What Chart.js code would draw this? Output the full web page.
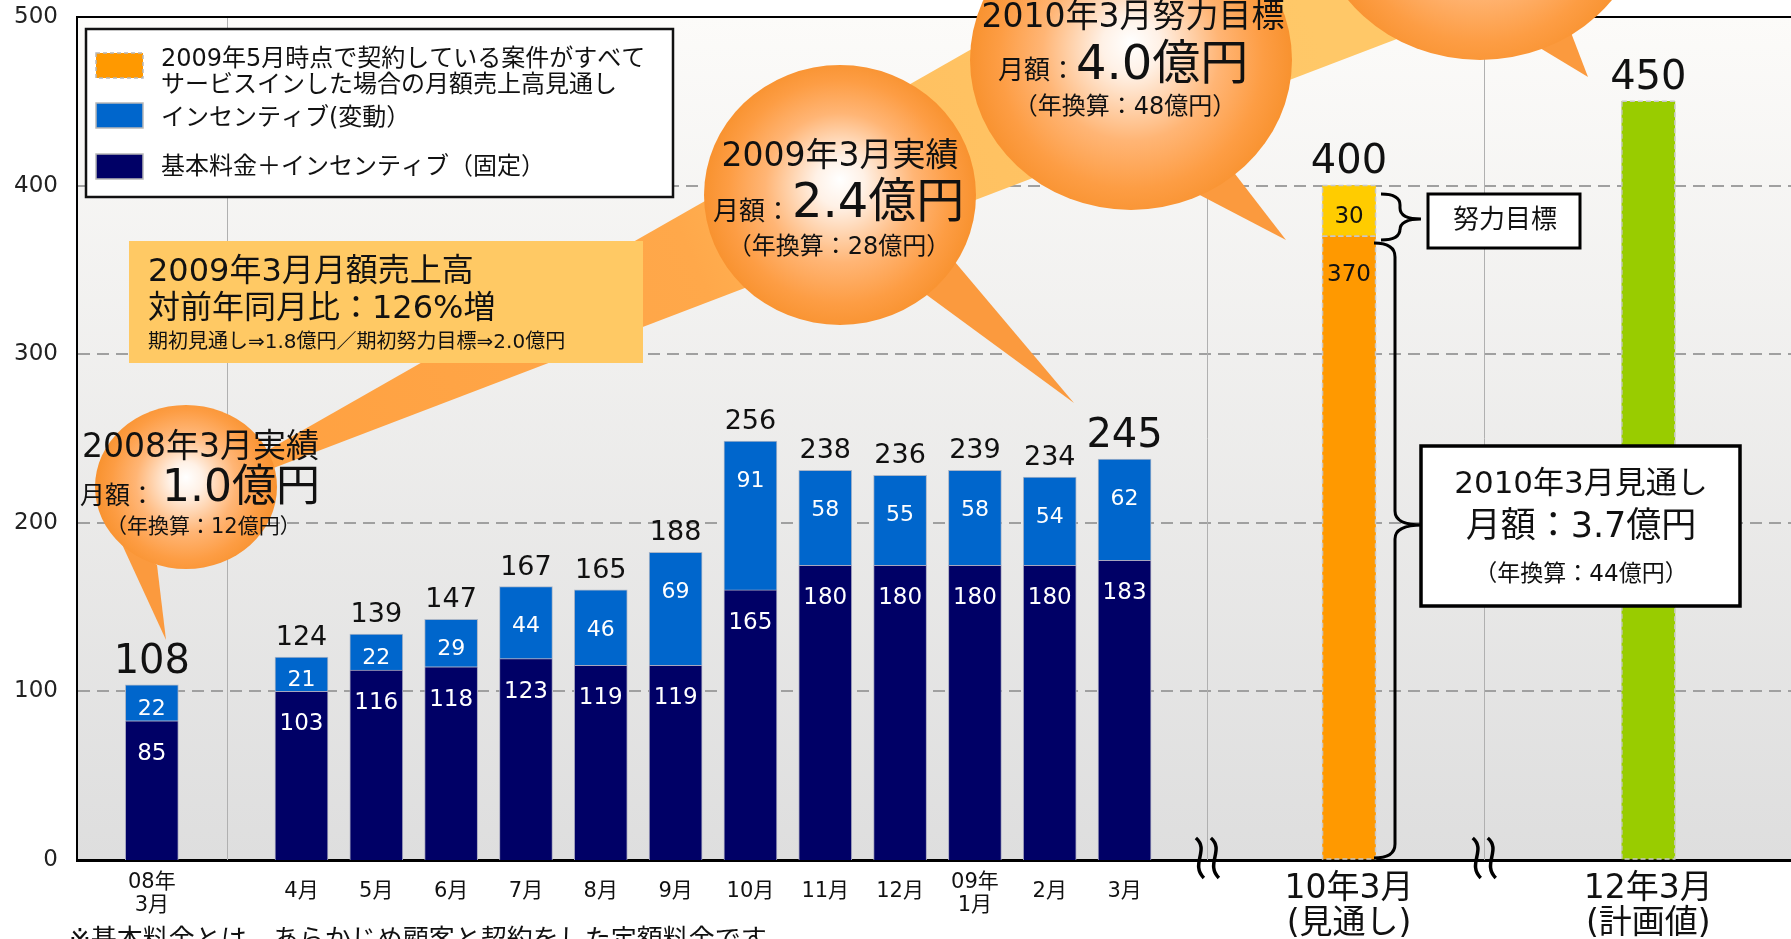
<!DOCTYPE html>
<html lang="ja">
<head>
<meta charset="utf-8">
<title>月額売上高の推移</title>
<script src="https://cdn.jsdelivr.net/npm/chart.js@4"></script>
<style>
  html, body { margin: 0; padding: 0; background: #fff; overflow: hidden; }
  canvas { display: block; }
</style>
</head>
<body>
<canvas id="chart" width="1798" height="939"></canvas>
<script>
// 実績（08年3月、08年4月〜09年3月）
const actualMonths = [['08年', '3月'], '4月', '5月', '6月', '7月', '8月', '9月', '10月', '11月', '12月', ['09年', '1月'], '2月', '3月'];
const fixedFee = [85, 103, 116, 118, 123, 119, 119, 165, 180, 180, 180, 180, 183];
const incentive = [22, 21, 22, 29, 44, 46, 69, 91, 58, 55, 58, 54, 62];
const actualTotals = [108, 124, 139, 147, 167, 165, 188, 256, 238, 236, 239, 234, 245];

// 10年3月 見通し / 12年3月 計画値
const outlookLabel = ['10年3月', '(見通し)'];
const outlookBase = [370];
const outlookEffort = [30];
const outlookTotal = [400];
const planLabel = ['12年3月', '(計画値)'];
const planValue = [450];

const yTicks = [0, 100, 200, 300, 400, 500];

// 注記テキスト
const legendItems = [
  ['2009年5月時点で契約している案件がすべて', 'サービスインした場合の月額売上高見通し'],
  ['インセンティブ(変動）'],
  ['基本料金＋インセンティブ（固定）']
];
const note2008 = ['2008年3月実績', '月額：', '1.0億円', '（年換算：12億円）'];
const note2009 = ['2009年3月実績', '月額：', '2.4億円', '（年換算：28億円）'];
const note2010 = ['2010年3月努力目標', '月額：', '4.0億円', '（年換算：48億円）'];
const growthBox = ['2009年3月月額売上高', '対前年同月比：126%増', '期初見通し⇒1.8億円／期初努力目標⇒2.0億円'];
const outlookBox = ['2010年3月見通し', '月額：3.7億円', '（年換算：44億円）'];
const effortBox = '努力目標';
const footnote = '※基本料金とは、あらかじめ顧客と契約をした定額料金です';

// 軸の並び（空欄はすき間）
const categories = ['', actualMonths[0], '', ...actualMonths.slice(1), '', '', outlookLabel, '', '', '', planLabel, '', ''];

function spread(labels, values) {
  const out = categories.map(() => null);
  labels.forEach((l, i) => { out[categories.indexOf(l)] = values[i]; });
  return out;
}

const FONT = "'DejaVu Sans', 'Noto Sans CJK JP', sans-serif";

function txt(ctx, s, x, y, size, align, color) {
  ctx.font = size + 'px ' + FONT;
  ctx.textAlign = align || 'left';
  ctx.textBaseline = 'middle';
  ctx.fillStyle = color || '#111';
  ctx.fillText(s, x, y);
}

function bubble(ctx, cx, cy, rx, ry, tail) {
  ctx.save();
  ctx.fillStyle = '#fb9a3e';
  ctx.beginPath();
  ctx.moveTo(tail[0][0], tail[0][1]);
  ctx.lineTo(tail[1][0], tail[1][1]);
  ctx.lineTo(tail[2][0], tail[2][1]);
  ctx.closePath();
  ctx.fill();
  const g = ctx.createRadialGradient(cx, cy - ry * 0.12, 0, cx, cy, Math.max(rx, ry));
  g.addColorStop(0, '#ffffff');
  g.addColorStop(0.18, '#fff1e6');
  g.addColorStop(0.55, '#ffb575');
  g.addColorStop(0.82, '#fd9d44');
  g.addColorStop(1, '#f8922f');
  ctx.fillStyle = g;
  ctx.beginPath();
  ctx.ellipse(cx, cy, rx, ry, 0, 0, Math.PI * 2);
  ctx.fill();
  ctx.restore();
}

function brace(ctx, x0, spine, tipX, top, tipY, bottom, r) {
  ctx.beginPath();
  ctx.moveTo(x0, top);
  ctx.quadraticCurveTo(spine, top, spine, top + r);
  ctx.lineTo(spine, tipY - r);
  ctx.quadraticCurveTo(spine, tipY, tipX, tipY);
  ctx.quadraticCurveTo(spine, tipY, spine, tipY + r);
  ctx.lineTo(spine, bottom - r);
  ctx.quadraticCurveTo(spine, bottom, x0, bottom);
  ctx.stroke();
}

function squiggle(ctx, x, y0, y1) {
  const h = y1 - y0;
  ctx.beginPath();
  ctx.moveTo(x - 4, y0);
  ctx.bezierCurveTo(x + 10, y0 + h * 0.3, x - 10, y0 + h * 0.65, x + 4, y1);
  ctx.stroke();
}

const decor = {
  id: 'decor',
  beforeDraw(chart) {
    const { ctx, chartArea: a } = chart;
    ctx.save();
    ctx.fillStyle = '#fff';
    ctx.fillRect(0, 0, chart.width, chart.height);
    const g = ctx.createLinearGradient(0, a.top, 0, a.bottom);
    g.addColorStop(0, '#fcfbf9');
    g.addColorStop(1, '#dedede');
    ctx.fillStyle = g;
    ctx.fillRect(a.left, a.top, a.right - a.left, a.bottom - a.top);
    ctx.restore();
  },
  beforeDatasetsDraw(chart) {
    const { ctx, chartArea: a, scales: { x } } = chart;
    ctx.save();
    // 区切りの縦線
    ctx.strokeStyle = '#b0b0b0';
    ctx.lineWidth = 1;
    [2, 15.1, 18.8].forEach(v => {
      const px = Math.round(x.getPixelForValue(v)) + 0.5;
      ctx.beginPath(); ctx.moveTo(px, a.top); ctx.lineTo(px, a.bottom); ctx.stroke();
    });
    // 上枠
    ctx.strokeStyle = '#000';
    ctx.lineWidth = 2;
    ctx.beginPath(); ctx.moveTo(a.left, a.top); ctx.lineTo(a.right, a.top); ctx.stroke();

    // 成長の矢印
    const bg = ctx.createLinearGradient(200, 480, 1300, 0);
    bg.addColorStop(0, '#ffa040');
    bg.addColorStop(0.45, '#ffa84a');
    bg.addColorStop(0.62, '#ffc060');
    bg.addColorStop(1, '#ffc868');
    ctx.fillStyle = bg;
    ctx.beginPath();
    ctx.moveTo(161, 511);
    ctx.lineTo(1800, -423);
    ctx.lineTo(1800, -115);
    ctx.closePath();
    ctx.fill();

    // 吹き出し
    bubble(ctx, 186, 487, 91, 82, [[120, 540], [166, 640], [157, 565]]);
    bubble(ctx, 840, 195, 136, 130, [[920, 290], [1074, 403], [955, 262]]);
    bubble(ctx, 1131, 60, 161, 150, [[1194, 192], [1286, 240], [1232, 170]]);
    bubble(ctx, 1480, -90, 165, 150, [[1535, 45], [1588, 77], [1570, 30]]);

    txt(ctx, note2008[0], 82, 448, 33);
    txt(ctx, note2008[1], 80, 497, 25);
    txt(ctx, note2008[2], 162, 490, 44);
    txt(ctx, note2008[3], 106, 528, 21);

    txt(ctx, note2009[0], 840, 157, 33, 'center');
    txt(ctx, note2009[1], 713, 213, 26);
    txt(ctx, note2009[2], 792, 205, 48);
    txt(ctx, note2009[3], 839, 248, 24, 'center');

    txt(ctx, note2010[0], 1133, 18, 33, 'center');
    txt(ctx, note2010[1], 998, 72, 26);
    txt(ctx, note2010[2], 1076, 67, 48);
    txt(ctx, note2010[3], 1125, 108, 24, 'center');

    // 前年比ボックス
    ctx.fillStyle = '#ffc964';
    ctx.fillRect(129, 241, 514, 122);
    txt(ctx, growthBox[0], 148, 273, 32);
    txt(ctx, growthBox[1], 148, 310, 32);
    txt(ctx, growthBox[2], 148, 343, 20);

    // 凡例
    ctx.fillStyle = '#fff';
    ctx.fillRect(86, 29, 587, 168);
    ctx.strokeStyle = '#111';
    ctx.lineWidth = 2.5;
    ctx.strokeRect(86, 29, 587, 168);
    const sw = [['#ff9900', 53], ['#0066cc', 103], ['#000066', 154]];
    sw.forEach(([c, y], i) => {
      ctx.fillStyle = c;
      ctx.fillRect(96, y, 47, 25);
      ctx.strokeStyle = '#b8b8b8';
      ctx.lineWidth = 1.5;
      ctx.setLineDash(i === 0 ? [4, 3] : []);
      ctx.strokeRect(96, y, 47, 25);
    });
    ctx.setLineDash([]);
    txt(ctx, legendItems[0][0], 161, 60, 24);
    txt(ctx, legendItems[0][1], 161, 86, 24);
    txt(ctx, legendItems[1][0], 161, 119, 24);
    txt(ctx, legendItems[2][0], 161, 168, 24);

    // 注記
    ctx.font = '26px ' + FONT;
    ctx.textAlign = 'left';
    ctx.textBaseline = 'top';
    ctx.fillStyle = '#111';
    ctx.fillText(footnote, 69, 928);
    ctx.restore();
  },
  afterDatasetsDraw(chart) {
    const { ctx, scales: { x } } = chart;
    ctx.save();
    const fixedMeta = chart.getDatasetMeta(0).data;
    const incMeta = chart.getDatasetMeta(1).data;
    actualMonths.forEach((m, i) => {
      const idx = categories.indexOf(m);
      const f = fixedMeta[idx], v = incMeta[idx];
      txt(ctx, String(fixedFee[i]), f.x, f.y + 33, 23, 'center', '#fff');
      const mid = (v.y + v.base) / 2;
      txt(ctx, String(incentive[i]), v.x, Math.min(mid + 6, v.y + 40), 22, 'center', '#fff');
      const big = i === 0 || i === actualMonths.length - 1;
      ctx.font = (big ? 40 : 27) + 'px ' + FONT;
      ctx.textAlign = 'center';
      ctx.textBaseline = 'alphabetic';
      ctx.fillStyle = '#111';
      ctx.fillText(String(actualTotals[i]), v.x, v.y - 12);
    });

    // 見通し・計画値の棒（点線の枠）
    const oIdx = categories.indexOf(outlookLabel);
    const pIdx = categories.indexOf(planLabel);
    ctx.strokeStyle = '#c8c8c8';
    ctx.lineWidth = 1.5;
    ctx.setLineDash([5, 3]);
    [[2, oIdx], [3, oIdx], [4, pIdx]].forEach(([d, idx]) => {
      const el = chart.getDatasetMeta(d).data[idx];
      ctx.strokeRect(el.x - el.width / 2, el.y, el.width, el.base - el.y);
    });
    ctx.setLineDash([]);
    const base = chart.getDatasetMeta(2).data[oIdx];
    const eff = chart.getDatasetMeta(3).data[oIdx];
    const plan = chart.getDatasetMeta(4).data[pIdx];
    txt(ctx, String(outlookBase[0]), base.x, base.y + 39, 23, 'center', '#111');
    txt(ctx, String(outlookEffort[0]), eff.x, (eff.y + eff.base) / 2 + 6, 23, 'center', '#111');
    ctx.font = '40px ' + FONT;
    ctx.textAlign = 'center';
    ctx.textBaseline = 'alphabetic';
    ctx.fillStyle = '#111';
    ctx.fillText(String(outlookTotal[0]), eff.x, eff.y - 13);
    ctx.fillText(String(planValue[0]), plan.x, plan.y - 12);

    // 括弧と説明ボックス
    ctx.strokeStyle = '#000';
    ctx.lineWidth = 3;
    brace(ctx, 1381, 1400, 1421, 194, 219, 240, 11);
    brace(ctx, 1374, 1395, 1422, 243, 525, 858, 14);

    ctx.fillStyle = '#fff';
    ctx.fillRect(1428, 194, 152, 54);
    ctx.lineWidth = 3;
    ctx.strokeRect(1428, 194, 152, 54);
    txt(ctx, effortBox, 1505, 221, 26, 'center');

    ctx.fillStyle = '#fff';
    ctx.fillRect(1421, 446, 319, 160);
    ctx.lineWidth = 3.5;
    ctx.strokeRect(1421, 446, 319, 160);
    txt(ctx, outlookBox[0], 1581, 485, 31, 'center');
    txt(ctx, outlookBox[1], 1581, 528, 35, 'center');
    txt(ctx, outlookBox[2], 1581, 575, 23, 'center');

    // 省略記号
    ctx.lineWidth = 3.5;
    ctx.strokeStyle = '#000';
    [15.1, 18.8].forEach(v => {
      const px = x.getPixelForValue(v);
      squiggle(ctx, px - 7, 838, 878);
      squiggle(ctx, px + 8, 838, 878);
    });
    ctx.restore();
  }
};

new Chart(document.getElementById('chart'), {
  type: 'bar',
  data: {
    labels: categories,
    datasets: [
      // 元図では実績の棒が目盛よりわずかに縮んで描かれているため、別の（非表示の）軸に載せる
      { label: '基本料金＋インセンティブ（固定）', data: spread(actualMonths, fixedFee), yAxisID: 'yActual', backgroundColor: '#000066', borderColor: '#a6a6bf', borderWidth: 1 },
      { label: 'インセンティブ(変動)', data: spread(actualMonths, incentive), yAxisID: 'yActual', backgroundColor: '#0066cc', borderColor: '#aab6c8', borderWidth: 1 },
      { label: '見通し', data: spread([outlookLabel], outlookBase), backgroundColor: '#ff9900', borderWidth: 0 },
      { label: '努力目標', data: spread([outlookLabel], outlookEffort), backgroundColor: '#ffcc00', borderWidth: 0 },
      { label: '計画値', data: spread([planLabel], planValue), backgroundColor: '#99cc00', borderWidth: 0 }
    ]
  },
  options: {
    responsive: false,
    animation: false,
    events: [],
    layout: { padding: { top: 17, right: 0, left: 0, bottom: 0 } },
    datasets: { bar: { barThickness: 53 } },
    plugins: { legend: { display: false }, tooltip: { enabled: false } },
    scales: {
      x: {
        stacked: true,
        offset: false,
        grid: { display: false, drawTicks: false },
        border: { display: true, color: '#000', width: 3 },
        ticks: {
          autoSkip: false,
          maxRotation: 0,
          padding: 12,
          color: '#111',
          font: c => {
            const lbl = categories[c.index];
            if (lbl === outlookLabel || lbl === planLabel) return { family: FONT, size: 33, lineHeight: 1.06 };
            return { family: FONT, size: 21, lineHeight: Array.isArray(lbl) ? 1.05 : 1.9 };
          }
        },
        afterFit: s => { s.height = 79; s.paddingLeft = 0; s.paddingRight = 0; }
      },
      y: {
        stacked: true,
        min: 0,
        max: 500,
        afterBuildTicks: s => { s.ticks = yTicks.map(v => ({ value: v })); },
        grid: {
          drawTicks: false,
          lineWidth: 2,
          color: c => (c.tick && c.tick.value > 0 && c.tick.value < 500) ? '#a0a0a0' : 'rgba(0,0,0,0)'
        },
        border: { display: true, color: '#000', width: 2, dash: [12, 7] },
        ticks: { padding: 19, color: '#222', font: { family: FONT, size: 23 } },
        afterFit: s => { s.width = 77; s.paddingTop = 0; s.paddingBottom = 0; }
      },
      yActual: {
        stacked: true,
        display: false,
        position: 'left',
        min: 0,
        max: 515
      }
    }
  },
  plugins: [decor]
});
</script>
</body>
</html>
